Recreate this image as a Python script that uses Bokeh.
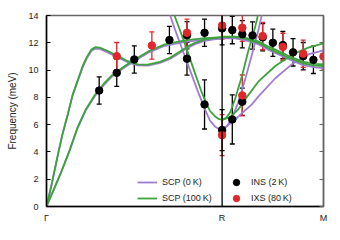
from bokeh.plotting import figure
from bokeh.models import (Range1d, LinearAxis, FixedTicker, Span, Whisker,
                          ColumnDataSource, Legend, LegendItem, TeeHead,
                          CustomJSTickFormatter)
from bokeh.embed import file_html
from bokeh.resources import INLINE

# path coordinate: Gamma = 0, R = 1, M = 1 + 0.5/0.866
sym_pos = [0.0, 1.0, 1.5774]
sym_labels = ["Γ", "R", "M"]
y_ticks = [0, 2, 4, 6, 8, 10, 12, 14]

# INS (2 K) data
ins_x = [0.3, 0.4, 0.5, 0.7, 0.8, 0.8, 0.9, 0.9, 1.0, 1.0, 1.058, 1.058, 1.115, 1.115,
         1.173, 1.231, 1.289, 1.346, 1.404, 1.462, 1.520]
ins_y = [8.5, 9.8, 10.78, 12.2, 12.55, 10.83, 12.73, 7.48, 13.05, 5.6, 12.93, 6.38, 12.63, 7.68,
         12.54, 12.4, 12.0, 11.83, 11.3, 11.02, 10.75]
ins_err = [1.0, 1.0, 1.0, 1.0, 1.0, 1.2, 1.0, 1.8, 1.2, 1.5, 1.0, 1.8, 1.0, 1.0,
           1.0, 1.0, 1.0, 1.0, 1.0, 1.0, 1.0]

# IXS (80 K) data
ixs_x = [0.4, 0.6, 0.8, 1.0, 1.0, 1.115, 1.115, 1.231, 1.346, 1.462, 1.577]
ixs_y = [11.02, 11.8, 12.73, 13.27, 5.23, 13.1, 8.14, 12.49, 11.7, 11.2, 11.0]
ixs_err = [1.0, 1.0, 1.0, 1.0, 1.5, 1.0, 1.5, 1.0, 1.0, 1.0, 1.0]

# SCP (100 K) branches (green)
g_a_x = [0, 0.029, 0.065, 0.091, 0.122, 0.149, 0.179, 0.206, 0.229, 0.255, 0.28, 0.303, 0.349,
         0.406, 0.463, 0.52, 0.577, 0.646, 0.703, 0.749, 0.8, 0.846, 0.903, 0.943, 1.0]
g_a_y = [0, 1.6, 3.8, 5.3, 6.8, 8.2, 9.3, 10.3, 10.95, 11.5, 11.68, 11.65, 11.4,
         11.02, 10.65, 10.42, 10.4, 10.6, 10.9, 11.27, 11.7, 12.0, 12.25, 12.32, 12.42]
g_b_x = [0, 0.04, 0.086, 0.131, 0.177, 0.223, 0.274, 0.326, 0.371, 0.446, 0.503, 0.577, 0.674,
         0.789, 0.886, 1.0]
g_b_y = [0, 1.2, 2.6, 4.1, 5.8, 7.1, 8.15, 9.0, 9.6, 10.3, 10.78, 11.35, 11.88, 12.17, 12.32, 12.42]
g_c_x = [1.0, 1.074, 1.131, 1.206, 1.26, 1.303, 1.377, 1.457, 1.531, 1.5774]
g_c_y = [12.42, 12.42, 12.3, 12.0, 11.62, 11.35, 10.92, 10.5, 10.33, 10.3]
g_c2_y = [12.45, 12.45, 12.38, 12.1, 11.75, 11.5, 11.05, 10.62, 10.45, 10.42]
g_s1_x = [0.714, 0.749, 0.789, 0.834, 0.88, 0.903, 0.931, 0.96, 0.983, 1.0]
g_s1_y = [14.5, 13.3, 11.9, 10.2, 8.5, 7.8, 7.0, 6.6, 6.4, 6.35]
g_s2_x = [1.0, 1.023, 1.046, 1.074, 1.114, 1.149, 1.189, 1.211]
g_s2_y = [6.35, 6.5, 6.9, 7.9, 9.6, 11.4, 13.2, 14.4]
g_s3_x = [1.0, 1.046, 1.091, 1.131, 1.206, 1.303, 1.4, 1.491, 1.5774]
g_s3_y = [6.35, 6.55, 7.1, 7.85, 9.15, 10.3, 11.15, 11.65, 11.95]

# SCP (0 K) branches (purple)
p_a_y = [0, 1.6, 3.8, 5.3, 6.78, 8.15, 9.22, 10.2, 10.85, 11.4, 11.58, 11.55, 11.3,
         10.93, 10.57, 10.34, 10.32, 10.52, 10.82, 11.18, 11.6, 11.9, 12.15, 12.23, 12.33]
p_b_y = [0, 1.2, 2.6, 4.08, 5.75, 7.03, 8.07, 8.9, 9.5, 10.2, 10.68, 11.25, 11.78, 12.07, 12.22, 12.33]
p_c_y = [12.33, 12.32, 12.2, 11.9, 11.52, 11.25, 10.82, 10.38, 10.2, 10.15]
p_s1_x = [0.691, 0.731, 0.771, 0.817, 0.863, 0.903, 0.931, 0.96, 0.983, 1.0]
p_s1_y = [14.5, 13.0, 11.6, 10.0, 8.4, 7.1, 6.3, 5.85, 5.68, 5.65]
p_s2_x = [1.0, 1.029, 1.057, 1.091, 1.131, 1.171, 1.206, 1.229]
p_s2_y = [5.65, 5.9, 6.5, 7.6, 9.3, 11.2, 12.9, 14.2]
p_s3_x = [1.0, 1.063, 1.114, 1.171, 1.206, 1.303, 1.4, 1.491, 1.5774]
p_s3_y = [5.65, 6.25, 6.85, 7.5, 8.05, 9.4, 10.45, 11.15, 11.45]

PURPLE = "#a07dd0"
GREEN = "#3ca33c"
RED = "#e0282a"
FONT = "Liberation Sans"

p = figure(width=331, height=231, output_backend="svg", toolbar_location=None,
           x_range=Range1d(0, 1.5774), y_range=Range1d(0, 14),
           min_border_left=46, min_border_right=8, min_border_top=15, min_border_bottom=25)
p.background_fill_color = "white"
p.border_fill_color = "white"
p.outline_line_color = "#666666"
p.outline_line_width = 1.5
p.grid.visible = False

# axes
p.xaxis.ticker = FixedTicker(ticks=sym_pos)
p.xaxis.major_label_overrides = {sym_pos[i]: sym_labels[i] for i in range(3)}
p.xaxis.major_tick_in = 0
p.xaxis.major_tick_out = 0
p.xaxis.minor_tick_line_color = None
p.xaxis.axis_line_color = "black"
p.xaxis.axis_line_width = 1.5
p.xaxis.major_label_standoff = 6

p.yaxis.ticker = FixedTicker(ticks=y_ticks)
p.yaxis.major_tick_in = 4
p.yaxis.major_tick_out = 0
p.yaxis.minor_tick_line_color = None
p.yaxis.axis_line_color = "black"
p.yaxis.axis_line_width = 1.5
p.yaxis.major_label_standoff = 8
p.yaxis.axis_label = "Frequency (meV)"
p.yaxis.axis_label_standoff = 7
p.yaxis.axis_label_text_font_style = "normal"

for ax in (p.xaxis[0], p.yaxis[0]):
    ax.major_label_text_font = FONT
    ax.major_label_text_font_size = "9px"
    ax.major_label_text_color = "#222222"
    ax.axis_label_text_font = FONT
    ax.axis_label_text_font_size = "10px"
    ax.axis_label_text_color = "#222222"

right = LinearAxis(ticker=FixedTicker(ticks=y_ticks),
                   formatter=CustomJSTickFormatter(code="return ''"),
                   major_tick_in=4, major_tick_out=0, minor_tick_line_color=None,
                   axis_line_color="#666666", axis_line_width=1.5,
                   major_tick_line_color="#666666",
                   major_label_text_font_size="0px", major_label_standoff=0)
p.add_layout(right, "right")

# curves: purple (0 K) underneath green (100 K)
lw = 1.8
rp = p.line(g_a_x, p_a_y, line_color=PURPLE, line_width=lw)
p.line(g_b_x, p_b_y, line_color=PURPLE, line_width=lw)
p.line(g_c_x, p_c_y, line_color=PURPLE, line_width=lw)
p.line(p_s1_x, p_s1_y, line_color=PURPLE, line_width=lw)
p.line(p_s2_x, p_s2_y, line_color=PURPLE, line_width=lw)
p.line(p_s3_x, p_s3_y, line_color=PURPLE, line_width=lw)

rg = p.line(g_a_x, g_a_y, line_color=GREEN, line_width=lw)
p.line(g_b_x, g_b_y, line_color=GREEN, line_width=lw)
p.line(g_c_x, g_c_y, line_color=GREEN, line_width=lw)
p.line(g_c_x, g_c2_y, line_color=GREEN, line_width=lw)
p.line(g_s1_x, g_s1_y, line_color=GREEN, line_width=lw)
p.line(g_s2_x, g_s2_y, line_color=GREEN, line_width=lw)
p.line(g_s3_x, g_s3_y, line_color=GREEN, line_width=lw)

# vertical marker at R
p.add_layout(Span(location=1.0, dimension="height", line_color="black", line_width=1.3))

# error bars and points
ins_src = ColumnDataSource(dict(x=ins_x, y=ins_y,
                                lo=[a - b for a, b in zip(ins_y, ins_err)],
                                hi=[a + b for a, b in zip(ins_y, ins_err)]))
ixs_src = ColumnDataSource(dict(x=ixs_x, y=ixs_y,
                                lo=[a - b for a, b in zip(ixs_y, ixs_err)],
                                hi=[a + b for a, b in zip(ixs_y, ixs_err)]))

p.add_layout(Whisker(source=ins_src, base="x", upper="hi", lower="lo",
                     line_color="black", line_width=1.3,
                     upper_head=TeeHead(size=5, line_color="black", line_width=1.3),
                     lower_head=TeeHead(size=5, line_color="black", line_width=1.3)))
rb = p.scatter("x", "y", source=ins_src, size=7.5, fill_color="black", line_color="black")

p.add_layout(Whisker(source=ixs_src, base="x", upper="hi", lower="lo",
                     line_color=RED, line_width=1.3,
                     upper_head=TeeHead(size=5, line_color=RED, line_width=1.3),
                     lower_head=TeeHead(size=5, line_color=RED, line_width=1.3)))
rr = p.scatter("x", "y", source=ixs_src, size=7.5, fill_color=RED, line_color=RED)

def make_legend(items, loc):
    lg = Legend(items=items, location=loc, orientation="vertical",
                border_line_color=None, background_fill_alpha=0,
                padding=0, margin=0, spacing=0,
                glyph_width=20, glyph_height=16, label_height=16,
                label_standoff=5,
                label_text_font=FONT, label_text_font_size="9px",
                label_text_color="#222222")
    return lg

p.add_layout(make_legend([LegendItem(label="SCP (0\u2009K)", renderers=[rp]),
                          LegendItem(label="SCP (100\u2009K)", renderers=[rg])], (91, 0)))
p.add_layout(make_legend([LegendItem(label="INS (2\u2009K)", renderers=[rb]),
                          LegendItem(label="IXS (80\u2009K)", renderers=[rr])], (180, 0)))

open("out.html", "w").write(file_html(p, INLINE))
